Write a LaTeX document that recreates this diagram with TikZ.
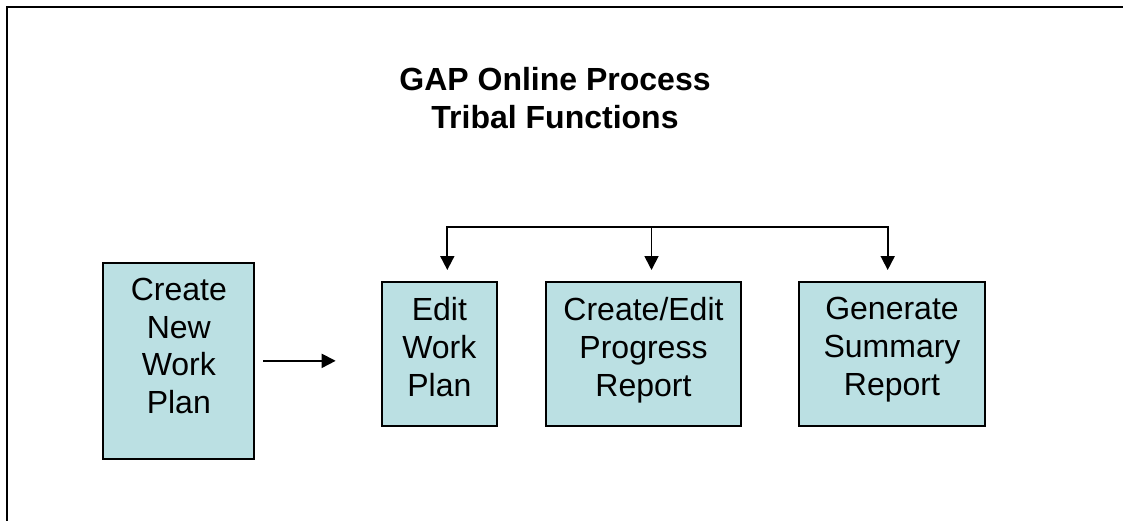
\documentclass[tikz,border=0pt]{standalone}
\usepackage{fontspec}
\setmainfont{Liberation Sans}
\usetikzlibrary{arrows.meta}
\definecolor{boxfill}{RGB}{187,224,227}
\begin{document}
\begin{tikzpicture}[x=1pt,y=-1pt,
  box/.style={draw=black, line width=2pt, fill=boxfill, inner sep=0pt},
  boxtext/.style={anchor=north, inner sep=0pt, align=center, font=\fontsize{32}{37.7}\selectfont},
  titletext/.style={anchor=north, inner sep=0pt, align=center, font=\bfseries\fontsize{32}{37.7}\selectfont},
  conn/.style={line width=1.8pt, -{Triangle[length=14pt,width=14pt]}},
  plainline/.style={line width=1.8pt},
  frameline/.style={line width=2pt}]
\useasboundingbox (0,0) rectangle (1123,521);
\draw[frameline] (7,521) -- (7,7) -- (1123,7);

\node[titletext] (title) at (555,67) {GAP Online Process\\Tribal Functions};

\node[box, minimum width=151pt, minimum height=196.3pt] (cnwp) at (178.8,360.85) {};
\node[boxtext] (cnwpt) at ([yshift=-16.3pt]cnwp.north) {Create\\New\\Work\\Plan};

\node[box, minimum width=115.3pt, minimum height=143.7pt] (edit) at (439.35,353.85) {};
\node[boxtext] (editt) at ([yshift=-16.3pt]edit.north) {Edit\\Work\\Plan};

\node[box, minimum width=195.6pt, minimum height=143.7pt] (ced) at (643.5,353.85) {};
\node[boxtext] (cedt) at ([yshift=-16.3pt]ced.north) {Create/Edit\\Progress\\Report};

\node[box, minimum width=186pt, minimum height=143.7pt] (gen) at (892,353.85) {};
\node[boxtext] (gent) at ([yshift=-16.3pt]gen.north) {Generate\\Summary\\Report};

\draw[conn, shorten <=8pt, shorten >=45pt] (cnwp.east) -- (cnwp.east -| edit.west);

\coordinate (b1) at (447.3,227.3);
\coordinate (b2) at (651.5,227.3);
\coordinate (b3) at (887.7,227.3);
\draw[conn, shorten >=11pt] (b2) -- (b1) -- (b1 |- edit.north);
\draw[conn, shorten >=11pt] (b2) -- (b3) -- (b3 |- gen.north);
\draw[conn, shorten >=11pt] (b2) -- (b2 |- ced.north);
\end{tikzpicture}
\end{document}
